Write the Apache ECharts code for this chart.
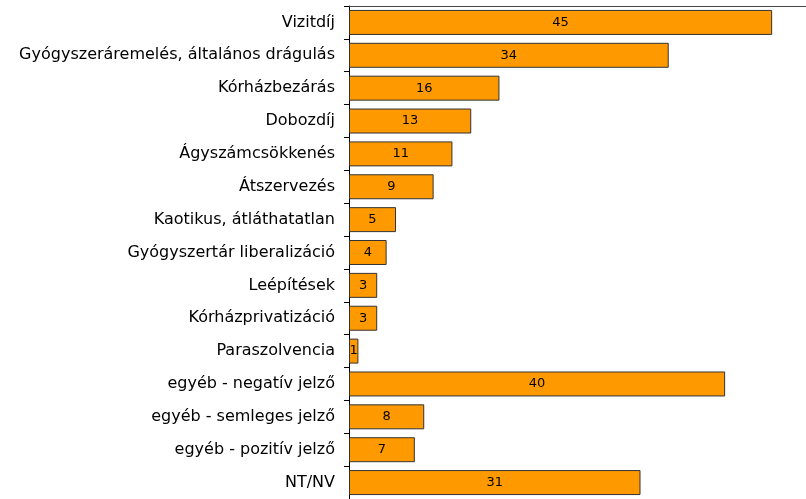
<!DOCTYPE html>
<html>
<head>
<meta charset="utf-8">
<script src="https://cdn.jsdelivr.net/npm/echarts@6/dist/echarts.min.js"></script>
<style>
html,body{margin:0;padding:0;background:#fff;}
#chart{width:806px;height:499px;}
</style>
</head>
<body>
<div id="chart"></div>
<script>
// Answer categories, top to bottom
const categories = [
  'Vizitdíj',
  'Gyógyszeráremelés, általános drágulás',
  'Kórházbezárás',
  'Dobozdíj',
  'Ágyszámcsökkenés',
  'Átszervezés',
  'Kaotikus, átláthatatlan',
  'Gyógyszertár liberalizáció',
  'Leépítések',
  'Kórházprivatizáció',
  'Paraszolvencia',
  'egyéb - negatív jelző',
  'egyéb - semleges jelző',
  'egyéb - pozitív jelző',
  'NT/NV'
];
// Mentions (%)
const values = [45, 34, 16, 13, 11, 9, 5, 4, 3, 3, 1, 40, 8, 7, 31];

const chart = echarts.init(document.getElementById('chart'), null, {renderer: 'canvas'});
chart.setOption({
  animation: false,
  backgroundColor: '#fff',
  grid: {left: 349, top: 6, right: 0, bottom: -3, containLabel: false},
  xAxis: {
    type: 'value', position: 'top', min: 0, max: 48.6,
    axisLine: {show: true, lineStyle: {color: '#444', width: 1}},
    axisTick: {show: false}, axisLabel: {show: false}, splitLine: {show: false}
  },
  yAxis: {
    type: 'category', inverse: true, data: categories,
    axisLine: {show: true, onZero: false, lineStyle: {color: '#000', width: 1}},
    axisTick: {show: true, length: 5, lineStyle: {color: '#000'}},
    axisLabel: {color: '#000', fontFamily: 'DejaVu Sans', fontSize: 16, margin: 14}
  },
  series: [{
    type: 'bar', data: values, barCategoryGap: '24%',
    itemStyle: {color: '#FF9900', borderColor: '#333', borderWidth: 1},
    label: {show: true, position: 'inside', color: '#000', fontFamily: 'DejaVu Sans', fontSize: 13}
  }]
});
</script>
</body>
</html>
